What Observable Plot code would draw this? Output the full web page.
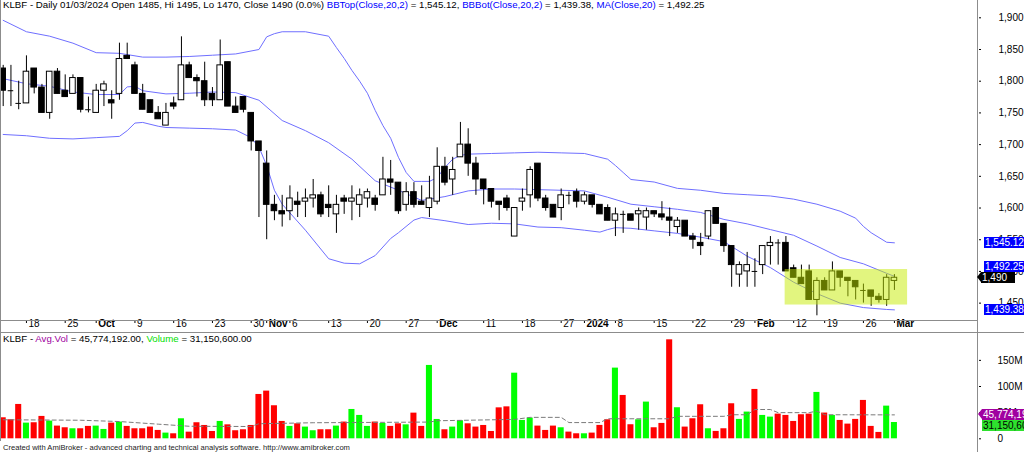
<!DOCTYPE html>
<html>
<head>
<meta charset="UTF-8">
<title>KLBF Daily</title>
<script src="https://cdn.jsdelivr.net/npm/d3@7"></script>
<script src="https://cdn.jsdelivr.net/npm/@observablehq/plot@0.6"></script>
<style>
  body { margin: 0; background: #fff; font-family: "Liberation Sans", Arial, sans-serif; }
  #chart { position: relative; width: 1024px; height: 452px; overflow: hidden; background: #fff; }
  #price, #volume { position: absolute; left: 0; }
  #price { top: 0; }
  #volume { top: 332px; }
  .legend { position: absolute; left: 3px; font-size: 9.7px; line-height: 12px; white-space: nowrap; color: #000; }
  .blue { color: #0000ff; }
  .purple { color: #a000a0; }
  .green { color: #00e000; }
  .line { position: absolute; background: #8c8c8c; }
  .tag { position: absolute; height: 11px; line-height: 11px; font-size: 10px; padding-left: 1px; white-space: nowrap; overflow: hidden; }
  .footer { position: absolute; left: 3px; top: 443px; font-size: 7.6px; line-height: 10px; color: #222; white-space: nowrap; }
</style>
</head>
<body>
<div id="chart">
  <div id="price"></div>
  <div id="volume"></div>
  <div class="line" style="left:0;top:0;width:1px;height:441px"></div>
  <div class="line" style="left:977px;top:0;width:1px;height:452px"></div>
  <div class="line" style="left:0;top:320px;width:978px;height:1px"></div>
  <div class="line" style="left:0;top:332px;width:1024px;height:1px"></div>
  <div class="legend" style="top:-1px">KLBF - Daily 01/03/2024 Open 1485, Hi 1495, Lo 1470, Close 1490 (0.0%) <span class="blue">BBTop(Close,20,2)</span> = 1,545.12, <span class="blue">BBBot(Close,20,2)</span> = 1,439.38, <span class="blue">MA(Close,20)</span> = 1,492.25</div>
  <div class="legend" style="top:333px">KLBF - <span class="purple">Avg.Vol</span> = 45,774,192.00, <span class="green">Volume</span> = 31,150,600.00</div>
  <div class="footer">Created with AmiBroker - advanced charting and technical analysis software. http://www.amibroker.com</div>
</div>
<script>
// daily bars, 13 Sep 2023 .. 1 Mar 2024 (index 0..115)
const open = [1820,1785,1765,1765,1820,1790,1750,1815,1785,1780,1805,1755,1750,1785,1770,1780,1840,1825,1780,1770,
  1750,1730,1765,1770,1825,1805,1800,1780,1770,1830,1760,1775,1750,1705,1670,1605,1595,1595,1610,1610,
  1615,1620,1605,1590,1615,1610,1605,1615,1615,1620,1645,1640,1605,1625,1610,1600,1610,1665,1645,1680,
  1700,1670,1645,1630,1610,1615,1555,1610,1620,1670,1615,1605,1600,1620,1625,1610,1620,1605,1600,1580,
  1590,1590,1590,1585,1595,1590,1585,1570,1580,1555,1545,1555,1600,1575,1540,1495,1500,1500,1510,1540,
  1545,1545,1505,1490,1500,1455,1485,1470,1500,1490,1485,1470,1470,1460,1455,1485];
const high = [1825,1825,1800,1840,1820,1795,1815,1820,1810,1810,1805,1775,1795,1800,1785,1860,1860,1830,1795,1770,
  1760,1765,1775,1870,1830,1810,1830,1790,1865,1830,1775,1775,1750,1705,1690,1620,1620,1635,1625,1630,
  1645,1625,1635,1620,1620,1635,1630,1630,1620,1680,1675,1640,1640,1640,1635,1650,1695,1680,1680,1735,
  1725,1680,1645,1630,1610,1620,1600,1630,1665,1670,1620,1605,1630,1625,1630,1625,1620,1605,1605,1600,
  1595,1590,1600,1600,1595,1610,1600,1585,1580,1560,1560,1595,1600,1575,1540,1515,1530,1520,1540,1555,
  1550,1555,1510,1510,1510,1490,1490,1515,1500,1490,1485,1480,1470,1465,1495,1495];
const low = [1760,1760,1755,1765,1780,1750,1740,1780,1775,1780,1750,1750,1750,1760,1740,1770,1835,1780,1755,1750,
  1740,1730,1755,1770,1805,1775,1760,1760,1770,1760,1750,1750,1690,1585,1550,1580,1570,1580,1585,1585,
  1600,1585,1585,1560,1590,1580,1585,1600,1595,1620,1620,1590,1595,1600,1605,1585,1605,1635,1620,1680,
  1650,1620,1605,1600,1580,1595,1555,1595,1600,1610,1595,1585,1580,1605,1600,1605,1600,1590,1580,1555,
  1560,1580,1565,1565,1585,1580,1555,1560,1555,1535,1525,1550,1575,1530,1475,1475,1475,1475,1495,1510,
  1510,1500,1490,1480,1455,1430,1470,1470,1475,1460,1455,1450,1445,1450,1445,1470];
const close = [1785,1785,1765,1815,1790,1750,1815,1780,1775,1805,1755,1755,1785,1795,1765,1835,1835,1780,1755,1750,
  1740,1750,1760,1825,1805,1800,1770,1770,1825,1760,1750,1755,1705,1690,1605,1595,1590,1615,1605,1615,
  1620,1590,1600,1605,1610,1615,1620,1625,1605,1645,1640,1595,1625,1605,1605,1615,1665,1640,1660,1700,
  1670,1645,1630,1610,1605,1600,1600,1615,1660,1615,1600,1585,1620,1620,1610,1620,1605,1590,1580,1590,
  1590,1580,1595,1595,1590,1585,1580,1580,1555,1550,1540,1595,1575,1540,1510,1510,1510,1500,1540,1545,
  1545,1500,1490,1480,1455,1485,1470,1500,1490,1485,1475,1470,1460,1455,1490,1490];
// volume in millions of shares
const volume = [40.2,36.4,65.7,30,30.7,42.8,33.9,24.3,21.1,19.2,19.2,23.7,24.3,17.9,30,32,23.7,19.2,19.2,22.4,
  16,10.9,9.6,38.3,12.7,30.7,25.5,14,33.2,26.7,15.4,17.3,25.5,84.8,91.2,63.2,33.2,23.7,28.7,22.4,
  15.4,17.3,17.3,24.3,32,56.1,44.7,23.7,32,29.3,23.7,28.7,26.7,49.1,23.7,140.3,37,17.3,22.4,34.5,
  28.7,22.4,25.5,14,59.2,61.1,125.5,35.1,39.6,24.3,16,24.3,21.1,12.8,9.6,9.6,10.9,25.6,36.4,135.2,
  82.9,26.9,36.4,70.2,21.1,29.4,189.3,59.4,22.4,38.3,65.1,19.2,14.1,19.2,67,37.1,51.1,94.4,44.7,41.5,
  47.2,44.7,33.2,46,47.2,88.7,49.2,44.7,35.1,28.1,37.1,73.4,23.7,12.2,62.5,31.15];

// Bollinger bands / MA(20) read at these bar indices
const topIdx = [0,3,6,9,12,15,18,21,24,27,30,33,34,35,36,39,42,43,44,45,46,47,48,49,50,51,52,53,54,55,56,57,58,59,60,63,66,69,72,75,78,79,80,81,84,87,90,93,96,99,102,105,108,110,111,112,114,115];
const bbTop = [1896,1878,1871,1860,1845,1844,1838,1838,1839,1841,1843,1850,1870,1875,1878,1878,1871,1853,1836,1817,1800,1781,1754,1730,1710,1680,1656,1642,1642,1642,1648,1664,1677,1683,1685,1686,1687,1688,1687,1686,1677,1667,1656,1645,1641,1631,1628,1623,1621,1619,1614,1606,1595,1584,1571,1561,1546,1545.12];
const midIdx = [0,3,6,9,12,15,16,17,18,21,24,27,30,33,36,39,42,45,48,51,54,57,60,63,66,69,72,75,78,81,84,87,90,93,96,99,102,105,108,111,114,115];
const maClose = [1804,1796,1792,1783,1779,1779,1791,1792,1785,1780,1781,1783,1782,1770,1738,1722,1703,1677,1643,1628,1612,1618,1627,1630,1630,1629,1628,1627,1617,1606,1602,1598,1593,1582,1575,1566,1557,1540,1522,1512,1497,1492.25];
const botIdx = [0,3,6,9,12,15,16,17,18,20,21,24,27,30,32,33,34,35,36,39,42,44,46,48,50,51,53,54,57,60,63,66,69,72,75,77,78,79,81,84,87,90,93,96,99,102,105,108,111,114,115];
const bbBot = [1716,1714,1710,1709,1711,1713,1722,1734,1735,1729,1727,1726,1725,1723,1711,1696,1667,1628,1606,1565,1520,1513,1512,1525,1552,1561,1581,1585,1580,1574,1576,1575,1570,1569,1565,1562,1566,1569,1568,1564,1560,1554,1547,1524,1506,1483,1465,1450,1443,1440,1439.38];

// average volume (millions)
const avgIdx = [0,10,15,20,24,32,33,40,55,56,66,68,72,73,77,78,86,87,93,94,96,97,99,100,104,105,106,115];
const avgVol = [36.4,35.5,33,28,24,23.5,28.8,30.7,32,34.5,37.1,41,41,31,31,38.3,38.3,43,43,46,46,56,56,50,50,53,46,45.77];

// date axis
const tickIdx = [3,8,12,17,22,27,32,34,37,42,47,52,56,62,67,72,75,79,84,89,94,97,102,106,111,115];
const tickText = ["18","25","Oct","9","16","23","30","Nov","6","13","20","27","Dec","11","18","27","2024","8","15","22","29","Feb","12","19","26","Mar"];
const tickMonth = ["Oct","Nov","Dec","2024","Feb","Mar"];

const priceTicks = [1450,1500,1550,1600,1650,1700,1750,1800,1850,1900];
const volTicks = [0,50,100,150];

// annotation box drawn on the chart (bar index / price)
const box = {x1: 100.9, x2: 116.7, y1: 1447, y2: 1503};

const bars = open.map((o, i) => ({i, o, h: high[i], l: low[i], c: close[i], v: volume[i]}));
const pairs = (idx, vals) => idx.map((i, k) => ({i, v: vals[k]}));
const ticks = tickIdx.map((i, k) => ({i, t: tickText[k], m: tickMonth.includes(tickText[k])}));

const xDomain = [-0.348, 125.85];
const font = {fontFamily: "'Liberation Sans', Arial, sans-serif", fontSize: "10px", background: "transparent", overflow: "visible"};
const bandColor = "#6f6fff";
const half = 0.36;

const pricePlot = Plot.plot({
  width: 1024,
  height: 332,
  marginLeft: 0,
  marginRight: 46,
  marginTop: 0,
  marginBottom: 12,
  style: font,
  x: {domain: xDomain},
  y: {domain: [1422.6, 1927.3]},
  marks: [
    Plot.axisY({anchor: "right", ticks: priceTicks, tickFormat: d3.format(","), tickSize: 2, tickPadding: 18, label: null, fill: "#000"}),
    Plot.axisX({anchor: "bottom", ticks: tickIdx, tickSize: 3, tickFormat: () => "", label: null}),
    Plot.line(pairs(topIdx, bbTop), {x: "i", y: "v", stroke: bandColor, strokeWidth: 1}),
    Plot.line(pairs(midIdx, maClose), {x: "i", y: "v", stroke: bandColor, strokeWidth: 1}),
    Plot.line(pairs(botIdx, bbBot), {x: "i", y: "v", stroke: bandColor, strokeWidth: 1}),
    Plot.ruleX(bars, {x: "i", y1: "l", y2: "h", stroke: "#000"}),
    Plot.rect(bars.filter(d => d.o !== d.c), {
      x1: d => d.i - half, x2: d => d.i + half, y1: "o", y2: "c",
      fill: d => d.c > d.o ? "#fff" : "#000", stroke: "#000", strokeWidth: 1
    }),
    Plot.ruleY(bars.filter(d => d.o === d.c), {y: "c", x1: d => d.i - half, x2: d => d.i + half, stroke: "#000"}),
    Plot.rect([box], {x1: "x1", x2: "x2", y1: "y1", y2: "y2", fill: "#c6ec00", fillOpacity: 0.5}),
    Plot.text(ticks.filter(d => !d.m), {x: "i", text: "t", frameAnchor: "bottom", dy: 6, dx: 2, textAnchor: "start", fill: "#000"}),
    Plot.text(ticks.filter(d => d.m), {x: "i", text: "t", frameAnchor: "bottom", dy: 6, dx: 2, textAnchor: "start", fill: "#000", fontWeight: "bold"})
  ]
});
document.querySelector("#price").append(pricePlot);

const volPlot = Plot.plot({
  width: 1024,
  height: 109,
  marginLeft: 0,
  marginRight: 46,
  marginTop: 0,
  marginBottom: 2.7,
  style: font,
  x: {domain: xDomain, axis: null},
  y: {domain: [0, 203.3]},
  marks: [
    Plot.axisY({anchor: "right", ticks: volTicks, tickFormat: d => d ? d + "M" : "0", tickSize: 2, tickPadding: 17, label: null, fill: "#000"}),
    Plot.rect(bars, {
      x1: d => d.i - 0.39, x2: d => d.i + 0.39, y1: 0, y2: "v",
      fill: d => d.c > d.o ? "#00ff00" : "#ff0000"
    }),
    Plot.line(pairs(avgIdx, avgVol), {x: "i", y: "v", stroke: "#7a7a7a", strokeDasharray: "4,3", strokeWidth: 1})
  ]
});
document.querySelector("#volume").append(volPlot);

// value tags on the right axis
const chart = document.querySelector("#chart");
function tag(y, text, bg, fg, left, width, arrow) {
  const el = document.createElement("div");
  el.className = "tag";
  el.textContent = text;
  el.style.top = (y - 5.5) + "px";
  el.style.left = left + "px";
  el.style.width = (width || 1024 - left) + "px";
  el.style.background = bg;
  el.style.color = fg;
  chart.append(el);
  if (arrow) {
    const a = document.createElement("div");
    a.style.cssText = `position:absolute;left:${left - 4}px;top:${y - 5.5}px;width:0;height:0;border-top:5.5px solid transparent;border-bottom:5.5px solid transparent;border-right:4px solid ${bg}`;
    chart.append(a);
  }
}
const sy = pricePlot.scale("y");
const closeY = sy.apply(close[close.length - 1]);
let maY = sy.apply(maClose[maClose.length - 1]);
if (Math.abs(maY - closeY) < 11) maY = closeY - 11;
tag(sy.apply(bbTop[bbTop.length - 1]), "1,545.12", "#0000ff", "#fff", 984);
tag(maY, "1,492.25", "#0000ff", "#fff", 984);
tag(sy.apply(bbBot[bbBot.length - 1]), "1,439.38", "#0000ff", "#fff", 984);
tag(closeY, "1,490", "#000", "#fff", 981, 33, true);

const vy = volPlot.scale("y");
const avgY = 332 + vy.apply(avgVol[avgVol.length - 1]);
let volY = 332 + vy.apply(volume[volume.length - 1]);
if (Math.abs(volY - avgY) < 11) volY = avgY + 11;
tag(avgY, "45,774,192.00", "#a000a0", "#fff", 982, 0, true);
tag(volY, "31,150,600.00", "#2ee02e", "#000", 982);
</script>
</body>
</html>
